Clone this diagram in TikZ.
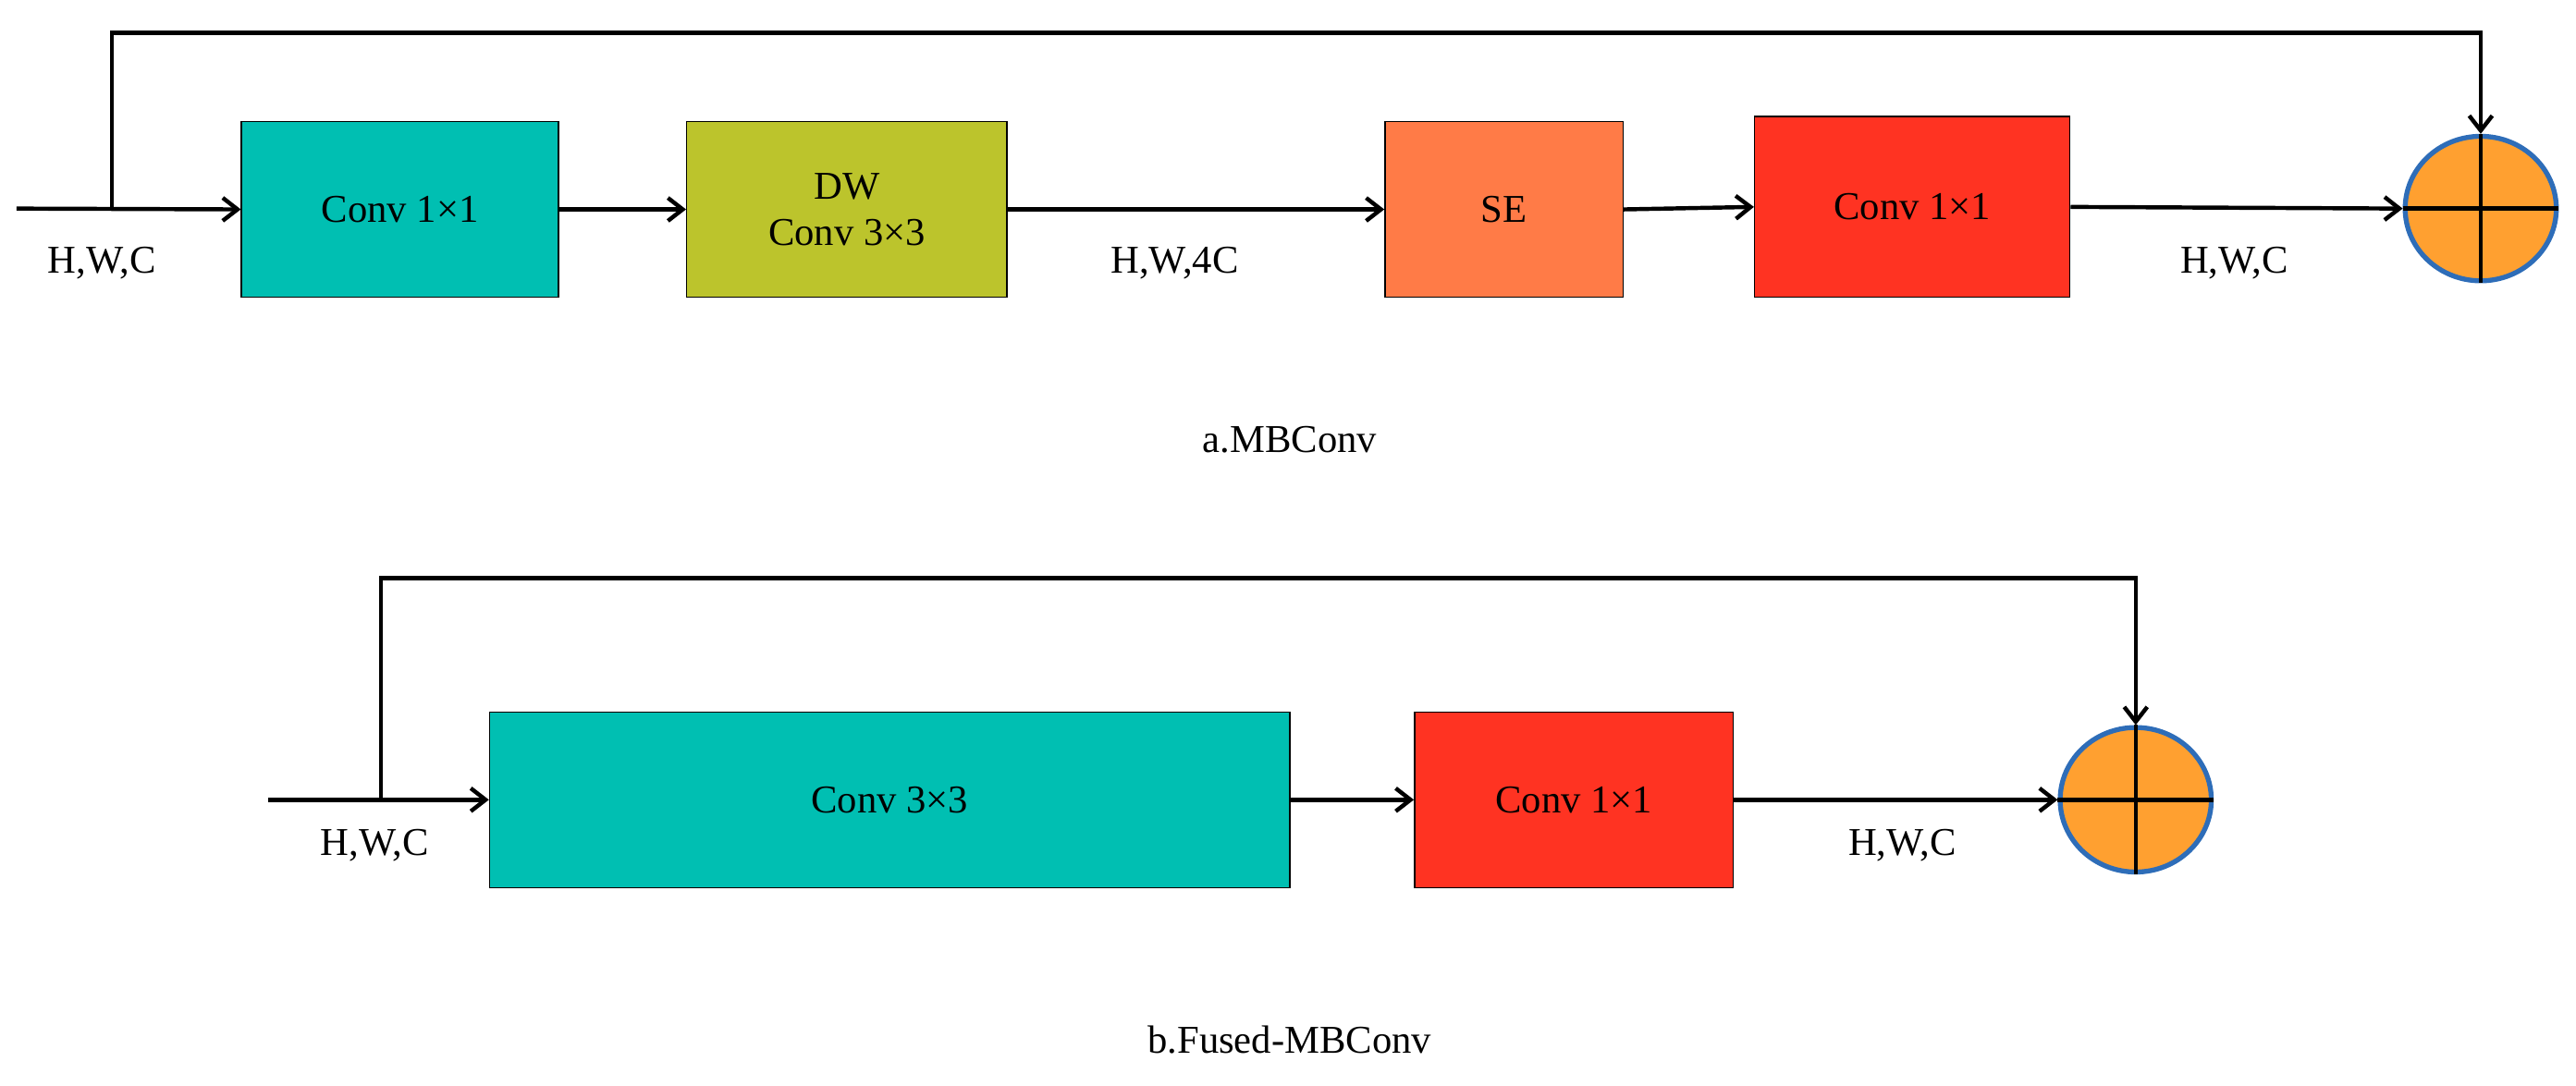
\documentclass[tikz,border=0pt]{standalone}
\usepackage{fontspec}
\setmainfont{Liberation Serif}
\usetikzlibrary{arrows.meta,shapes.geometric}
\definecolor{teal1}{HTML}{00BFB2}
\definecolor{olive1}{HTML}{BCC42C}
\definecolor{se1}{HTML}{FF7B47}
\definecolor{red1}{HTML}{FF3322}
\definecolor{orng}{HTML}{FFA030}
\definecolor{blu}{HTML}{2E6DB8}
\begin{document}
\begin{tikzpicture}[x=1pt,y=-1pt,
 box/.style={draw=black,line width=0.8pt,minimum height=107pt,inner sep=0pt,align=center,font=\fontsize{24}{28}\selectfont},
 lab/.style={font=\fontsize{24}{28}\selectfont},
 arr/.style={line width=2.5pt,-{Straight Barb[length=9pt,width=14pt,line width=2.5pt]}},
 ln/.style={line width=2.5pt},
 sum/.style={draw=blu,fill=orng,line width=3pt,ellipse,minimum width=92pt,minimum height=88pt,inner sep=0pt}]
\useasboundingbox (0,0) rectangle (1568,661);
% top
\coordinate (in1) at (10,127);
\coordinate (s1) at (68,127);
\node[box,fill=teal1,minimum width=193pt] (a1) at (243.5,127.5) {Conv 1×1};
\node[box,fill=olive1,minimum width=195pt] (a2) at (515.5,127.5) {DW\\Conv 3×3};
\node[box,fill=se1,minimum width=145pt] (a3) at (915.5,127.5) {SE};
\node[box,fill=red1,minimum width=192pt,minimum height=110pt] (a4) at (1164,126) {Conv 1×1};
\node[sum] (c1) at (1510,127) {};
\draw[line width=2.5pt] (c1.north) -- (c1.south) (c1.west) -- (c1.east);
\draw[arr] (in1) -- (a1.west);
\draw[arr] (s1) -- (68,20) -- (1510,20) -- (c1.north);
\draw[arr] (a1.east) -- (a2.west);
\draw[arr] (a2.east) -- (a3.west);
\draw[arr] (a3.east) -- (a4.west);
\draw[arr] (a4.east) -- (c1.west);
\node[lab] at (62,160) {H,W,C};
\node[lab] at (715,160) {H,W,4C};
\node[lab] at (1360,160) {H,W,C};
\node[lab] at (785,268) {a.MBConv};
% bottom
\coordinate (in2) at (163,487);
\coordinate (s2) at (232,487);
\node[box,fill=teal1,minimum width=487pt] (b1) at (541.5,487) {Conv 3×3};
\node[box,fill=red1,minimum width=194pt] (b2) at (958,487) {Conv 1×1};
\node[sum] (c2) at (1300,487) {};
\draw[line width=2.5pt] (c2.north) -- (c2.south) (c2.west) -- (c2.east);
\draw[arr] (in2) -- (b1.west);
\draw[arr] (s2) -- (232,352) -- (1300,352) -- (c2.north);
\draw[arr] (b1.east) -- (b2.west);
\draw[arr] (b2.east) -- (c2.west);
\node[lab] at (228,515) {H,W,C};
\node[lab] at (1158,515) {H,W,C};
\node[lab] at (785,633) {b.Fused-MBConv};
\end{tikzpicture}
\end{document}
